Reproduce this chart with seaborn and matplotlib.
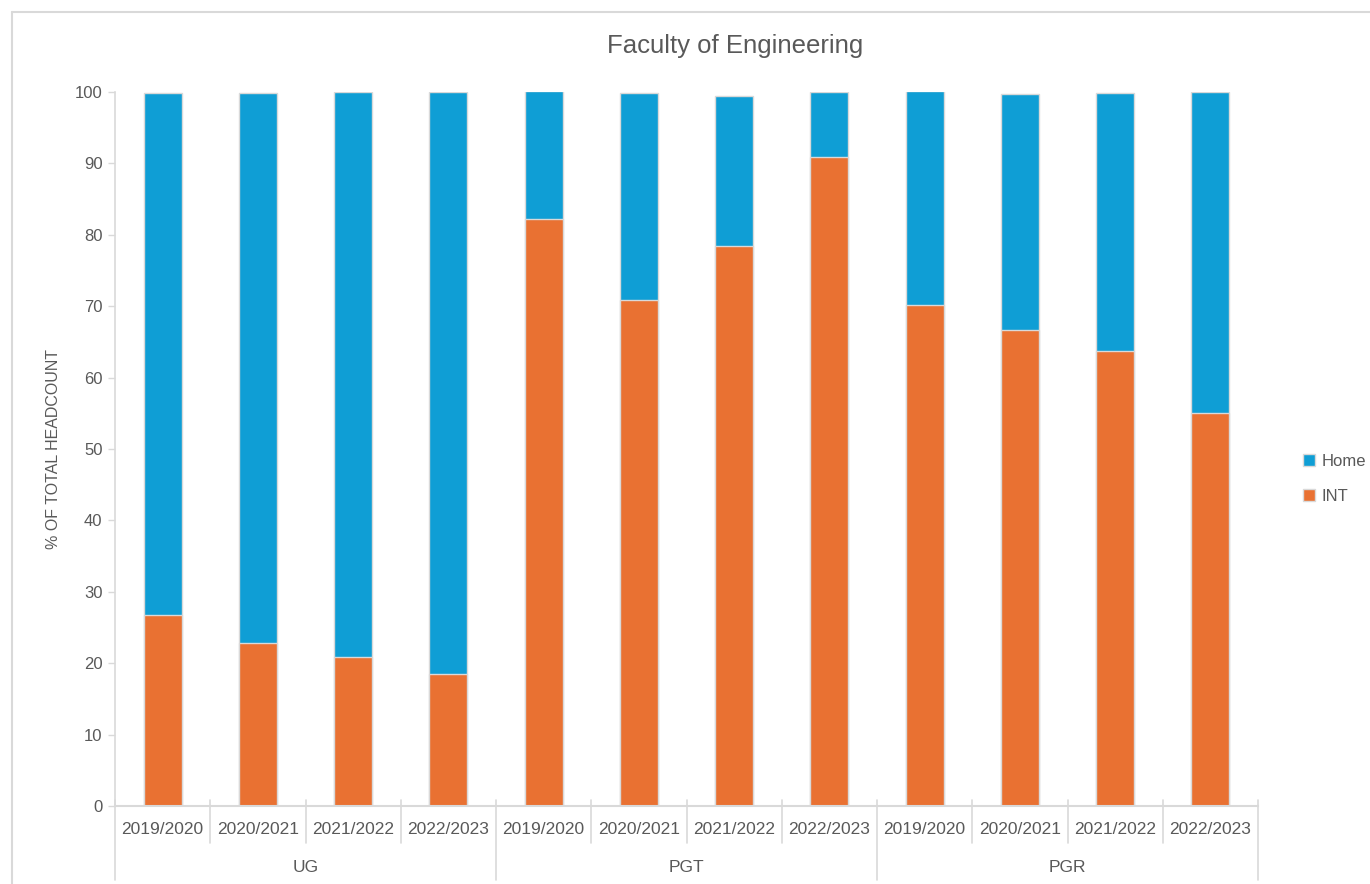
import matplotlib
matplotlib.use("Agg")
import matplotlib.pyplot as plt
import matplotlib.transforms as mtransforms
from matplotlib.patches import Patch
from matplotlib.lines import Line2D
from matplotlib import font_manager
import seaborn as sns
import pandas as pd

groups = ["UG", "PGT", "PGR"]
years = ["2019/2020", "2020/2021", "2021/2022", "2022/2023"]
int_pct = [26.8, 22.8, 20.9, 18.5,
           82.2, 70.9, 78.4, 90.9,
           70.2, 66.7, 63.7, 55.0]
home_pct = [73.0, 77.0, 79.1, 81.5,
            18.0, 28.9, 21.1, 9.1,
            30.0, 33.0, 36.1, 45.0]

HOME_C = "#0F9ED5"
INT_C = "#E97132"
GRID_C = "#D9D9D9"
TEXT_C = "#595959"

sns.set_theme(style="white")
avail = {f.name for f in font_manager.fontManager.ttflist}
fam = "Liberation Sans Narrow" if "Liberation Sans Narrow" in avail else "Liberation Sans"
plt.rcParams["font.family"] = [fam, "DejaVu Sans"]

rows = []
for gi, g in enumerate(groups):
    for yi, y in enumerate(years):
        k = gi * len(years) + yi
        rows.append({"key": f"{g}|{y}", "group": g, "year": y,
                     "INT": int_pct[k], "Home": home_pct[k],
                     "Total": int_pct[k] + home_pct[k]})
df = pd.DataFrame(rows)
order = list(df["key"])

fig = plt.figure(figsize=(13.7, 8.84), dpi=100)
W, H = 1370, 884
ax = fig.add_axes([115 / W, 1 - 806 / H, (1258 - 115) / W, (806 - 92) / H])

sns.barplot(data=df, x="key", y="Total", order=order, color=HOME_C, width=0.4,
            edgecolor=GRID_C, linewidth=1.0, saturation=1, ax=ax)
sns.barplot(data=df, x="key", y="INT", order=order, color=INT_C, width=0.4,
            edgecolor=GRID_C, linewidth=1.0, saturation=1, ax=ax)

n = len(order)
ax.set_xlim(-0.5, n - 0.5)
ax.set_ylim(0, 100)
ax.set_yticks(range(0, 101, 10))
ax.tick_params(axis="y", labelsize=12, colors=TEXT_C, length=5, width=1, color=GRID_C, direction="out", left=True, pad=4)
ax.set_xticks([])
ax.set_xlabel("")
ax.set_ylabel("% OF TOTAL HEADCOUNT", fontsize=11.5, color=TEXT_C, labelpad=10)
for s in ["top", "right"]:
    ax.spines[s].set_visible(False)
ax.spines["left"].set_color(GRID_C)
ax.spines["bottom"].set_color(GRID_C)
ax.spines["left"].set_linewidth(1.2)
ax.spines["bottom"].set_linewidth(1.5)

# category separators and labels
trans = mtransforms.blended_transform_factory(ax.transData, ax.transAxes)
px = 1.0 / (806 - 92)
for i in range(n + 1):
    xb = i - 0.5
    is_group = (i % len(years) == 0)
    y_end = -(880 - 806) * px if is_group else -(843 - 806) * px
    ax.add_line(Line2D([xb, xb], [6 * px, y_end], transform=trans, color=GRID_C,
                       lw=1.2, clip_on=False))
for i, row in df.iterrows():
    ax.text(i, -(830 - 806) * px, row["year"], transform=trans, ha="center", va="center",
            fontsize=12.5, color=TEXT_C)
for gi, g in enumerate(groups):
    xc = gi * len(years) + (len(years) - 1) / 2
    ax.text(xc, -(868 - 806) * px, g, transform=trans, ha="center", va="center",
            fontsize=12.5, color=TEXT_C)

fig.text(735 / W, 1 - 46 / H, "Faculty of Engineering", ha="center", va="center",
         fontsize=18.5, color=TEXT_C)

handles = [Patch(facecolor=HOME_C, edgecolor=GRID_C, label="Home"),
           Patch(facecolor=INT_C, edgecolor=GRID_C, label="INT")]
fig.legend(handles=handles, loc="center left", bbox_to_anchor=(1288 / W, 1 - 479 / H),
           frameon=False, fontsize=12, handlelength=0.7, handleheight=0.7,
           handletextpad=0.4, labelspacing=1.2, labelcolor=TEXT_C)

# outer chart border
fig.add_artist(Line2D([12 / W, 1.0], [1 - 12 / H, 1 - 12 / H], transform=fig.transFigure,
                      color=GRID_C, lw=1.5))
fig.add_artist(Line2D([12 / W, 12 / W], [1 - 12 / H, 0.0], transform=fig.transFigure,
                      color=GRID_C, lw=1.5))

fig.savefig("out.png", dpi=100)
